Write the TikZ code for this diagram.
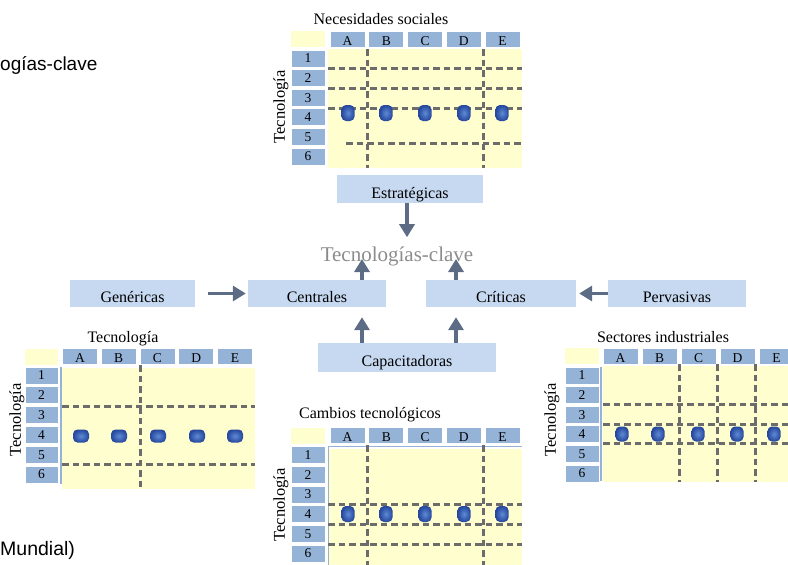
\documentclass[tikz,border=0pt]{standalone}
\usepackage{fontspec}
\setmainfont{Liberation Serif}
\newfontfamily\sansf{Liberation Sans}
\usetikzlibrary{arrows.meta}

\definecolor{boxblue}{RGB}{198,217,241}
\definecolor{hdrblue}{RGB}{149,179,215}
\definecolor{cellyellow}{RGB}{255,254,206}
\definecolor{dashgray}{RGB}{108,108,108}
\definecolor{arrowgray}{RGB}{93,108,133}
\definecolor{dotlight}{RGB}{95,138,212}
\definecolor{dotdark}{RGB}{38,72,158}
\definecolor{keygray}{RGB}{140,140,140}

\tikzset{
  colhdr/.style={fill=hdrblue, draw=white, line width=0.8pt, minimum width=35pt,
    minimum height=16pt, inner sep=0pt, text height=12pt, text depth=0pt,
    font=\fontsize{13.5}{14}\selectfont},
  rowhdr/.style={fill=hdrblue, draw=white, line width=0.8pt, minimum width=34pt,
    minimum height=17pt, inner sep=0pt, font=\fontsize{13.5}{14}\selectfont},
  corner/.style={fill=cellyellow, minimum width=34pt, minimum height=16pt, inner sep=0pt},
  gdash/.style={draw=dashgray, line width=3pt, dash pattern=on 6.5pt off 4pt},
  edgeline/.style={draw=hdrblue, line width=1.5pt},
  gtitle/.style={font=\fontsize{16}{18}\selectfont, inner sep=0pt},
  vtitle/.style={font=\fontsize{16.5}{18}\selectfont, rotate=90, inner sep=0pt},
  dot/.style={rectangle, rounded corners=4.5pt, minimum width=13pt, minimum height=16pt,
    inner sep=0pt, shading=radial, inner color=dotlight, outer color=dotdark},
  catbox/.style={fill=boxblue, inner sep=0pt, text height=18pt, text depth=0pt,
    font=\fontsize{16}{18}\selectfont},
  flow/.style={draw=arrowgray, line width=3.6pt, -{Triangle[length=13pt,width=15pt]}},
}

\begin{document}
\begin{tikzpicture}[x=1pt, y=-1pt]
\clip (0,0) rectangle (788,565);

% text fragments at the left edge
\node[anchor=base west, inner sep=0pt, font=\sansf\fontsize{19}{21}\selectfont] (frag1) at (0,70) {ogías-clave};
\node[anchor=base west, inner sep=0pt, font=\sansf\fontsize{19.5}{21}\selectfont] (frag2) at (0,555) {Mundial)};

% ---------- matrix: Necesidades sociales ----------
\node[gtitle] (ttitle) at (381,19) {Necesidades sociales};
\node[corner] (tcorner) at (308,39) {};
\foreach \l [count=\i from 0] in {A,B,C,D,E}
  \node[colhdr] (tc\l) at (347.5+38.75*\i,39) {\l};
\foreach \r in {1,...,6}
  \node[rowhdr] (tr\r) at (308,58.5+19.6*\r-19.6) {\r};
\fill[cellyellow] (328,49) rectangle (522,168);
\node[vtitle] (tvert) at (281,107) {Tecnología};
\foreach \y in {68,88,108}
  \draw[gdash] (328,\y) -- (522,\y);
\draw[gdash] (346,143) -- (522,143);
\foreach \x in {367,483}
  \draw[gdash] (\x,49) -- (\x,168);
\foreach \x [count=\i] in {348,386,425,464,502}
  \node[dot] (tdot\i) at (\x,113) {};

% ---------- central classification ----------
\node[catbox, minimum width=146pt, minimum height=28pt] (est) at (410,189) {Estratégicas};
\node[inner sep=0pt, text=keygray, font=\fontsize{21}{23}\selectfont] (tk) at (397,256) {Tecnologías-clave};
\node[catbox, minimum width=125pt, minimum height=27pt] (gen) at (132.5,293.5) {Genéricas};
\node[catbox, minimum width=138pt, minimum height=27pt] (cen) at (317,293.5) {Centrales};
\node[catbox, minimum width=150pt, minimum height=27pt] (cri) at (501,293.5) {Críticas};
\node[catbox, minimum width=138pt, minimum height=27pt] (per) at (677,293.5) {Pervasivas};
\node[catbox, minimum width=178pt, minimum height=29pt] (cap) at (407,357.5) {Capacitadoras};

\draw[flow] ([xshift=-3pt]est.south) -- ([xshift=-3pt,yshift=9pt]est.south |- tk.north);
\draw[flow] ([xshift=45pt]cen.north) -- ([xshift=45pt,yshift=2pt]cen.north |- tk.base);
\draw[flow] ([xshift=-45pt]cri.north) -- ([xshift=-45pt,yshift=2pt]cri.north |- tk.base);
\draw[flow, shorten <=13pt, shorten >=2pt] (gen.east) -- (cen.west);
\draw[flow, shorten >=3pt] (per.west) -- (cri.east);
\draw[flow, shorten >=10pt] ([xshift=45pt]cen.south |- cap.north) -- ([xshift=45pt]cen.south);
\draw[flow, shorten >=10pt] ([xshift=-45pt]cri.south |- cap.north) -- ([xshift=-45pt]cri.south);

% ---------- matrix: Tecnología ----------
\node[gtitle] (ltitle) at (123,339) {Tecnología};
\node[corner, minimum width=33pt] (lcorner) at (41.5,356.5) {};
\foreach \l [count=\i from 0] in {A,B,C,D,E}
  \node[colhdr] (lc\l) at (80+38.75*\i,356.5) {\l};
\foreach \r in {1,...,6}
  \node[rowhdr, minimum width=33pt] (lr\r) at (41.5,375.5+19.8*\r-19.8) {\r};
\fill[cellyellow] (62,368) rectangle (255,489);
\draw[edgeline] (61,367) -- (61,484);
\node[vtitle] (lvert) at (17,420) {Tecnología};
\foreach \y in {406,464}
  \draw[gdash] (62,\y) -- (255,\y);
\draw[gdash] (140,365) -- (140,489);
\foreach \x [count=\i] in {81,119,158,197,235}
  \node[dot, minimum width=16pt, minimum height=13pt] (ldot\i) at (\x,436) {};

% ---------- matrix: Cambios tecnológicos ----------
\node[gtitle] (mtitle) at (370,415) {Cambios tecnológicos};
\node[corner] (mcorner) at (308,435.5) {};
\foreach \l [count=\i from 0] in {A,B,C,D,E}
  \node[colhdr] (mc\l) at (347.5+38.75*\i,435.5) {\l};
\foreach \r in {1,...,6}
  \node[rowhdr] (mr\r) at (308,455+19.7*\r-19.7) {\r};
\fill[cellyellow] (328,449) rectangle (522,565);
\draw[draw=hdrblue, line width=1pt] (328,565) -- (328,446) -- (522,446);
\node[vtitle] (mvert) at (281,505) {Tecnología};
\foreach \y in {504,524,544}
  \draw[gdash] (328,\y) -- (522,\y);
\foreach \x in {367,483}
  \draw[gdash] (\x,445) -- (\x,565);
\foreach \x [count=\i] in {348,386,425,464,502}
  \node[dot] (mdot\i) at (\x,514) {};

% ---------- matrix: Sectores industriales ----------
\node[gtitle] (rtitle) at (663,337) {Sectores industriales};
\node[corner] (rcorner) at (582,356) {};
\foreach \l [count=\i from 0] in {A,B,C,D,E}
  \node[colhdr] (rc\l) at (620.5+39*\i,356) {\l};
\foreach \r in {1,...,6}
  \node[rowhdr] (rr\r) at (582,375.5+19.6*\r-19.6) {\r};
\fill[cellyellow] (603,366) rectangle (788,482);
\draw[edgeline] (601,367) -- (601,481);
\node[vtitle] (rvert) at (552,420) {Tecnología};
\foreach \y in {404,424,443}
  \draw[gdash] (603,\y) -- (788,\y);
\foreach \x in {679,717,755}
  \draw[gdash] (\x,364) -- (\x,482);
\foreach \x [count=\i] in {622,658,698,737,774}
  \node[dot, minimum height=15pt] (rdot\i) at (\x,434) {};
\end{tikzpicture}
\end{document}
